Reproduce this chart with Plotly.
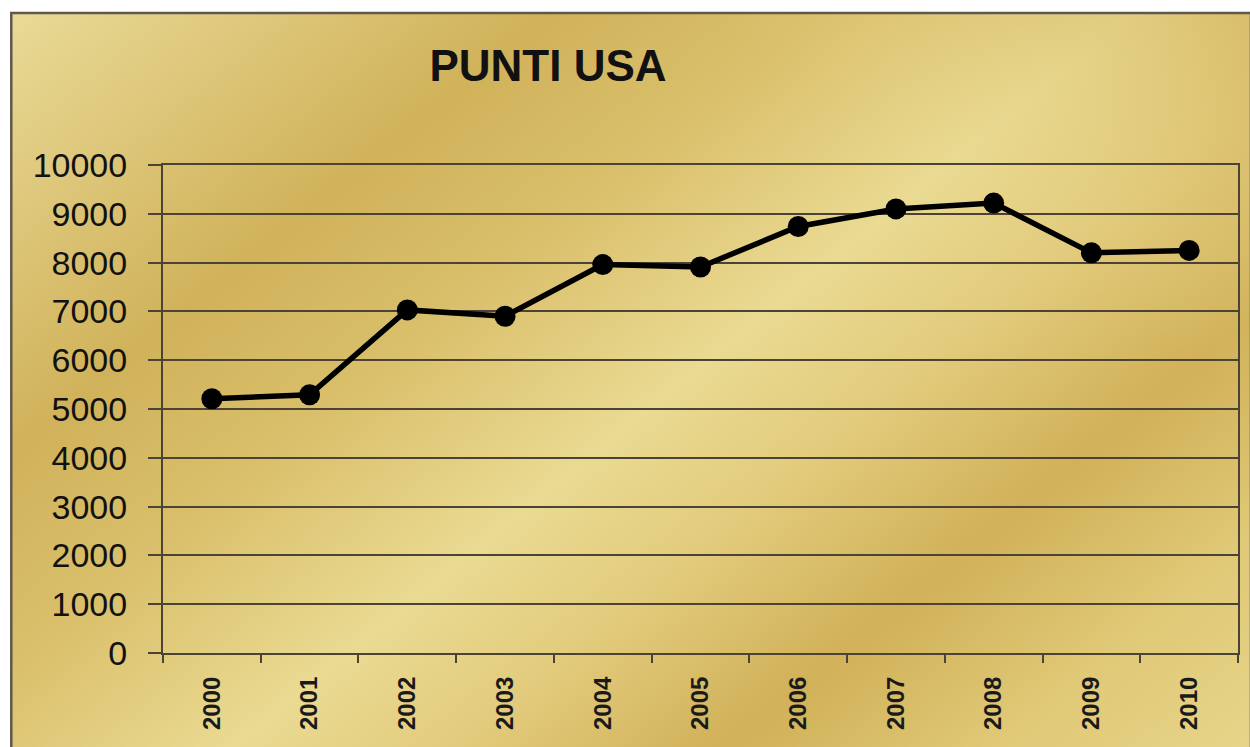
import base64
import plotly.graph_objects as go

# ---- data ----
years = ["2000", "2001", "2002", "2003", "2004", "2005",
         "2006", "2007", "2008", "2009", "2010"]
punti = [5210, 5290, 7030, 6900, 7960, 7910, 8740, 9100, 9220, 8200, 8250]
y_ticks = [0, 1000, 2000, 3000, 4000, 5000, 6000, 7000, 8000, 9000, 10000]
y_labels = ["0", "1000", "2000", "3000", "4000", "5000",
            "6000", "7000", "8000", "9000", "10000"]
title_text = "PUNTI USA"

# ---- geometry (pixels) ----
W, H = 1250, 747
L, R, T, B = 163, 1240, 165, 653
pw, ph = R - L, B - T


def px(x):
    return (x - L) / pw


def py(y):
    return (B - y) / ph


# gold gradient background as an inline SVG image
svg = (
    '<svg xmlns="http://www.w3.org/2000/svg" width="1240" height="740" '
    'viewBox="0 0 1240 740" preserveAspectRatio="none">'
    '<defs><linearGradient id="g" gradientUnits="userSpaceOnUse" '
    'x1="0" y1="0" x2="900" y2="1100">'
    '<stop offset="0" stop-color="#E9DA96"/>'
    '<stop offset="0.12" stop-color="#DDC679"/>'
    '<stop offset="0.24" stop-color="#D0B25A"/>'
    '<stop offset="0.36" stop-color="#DAC06C"/>'
    '<stop offset="0.50" stop-color="#EADA92"/>'
    '<stop offset="0.60" stop-color="#E2CB7C"/>'
    '<stop offset="0.72" stop-color="#D1B159"/>'
    '<stop offset="0.84" stop-color="#E0C977"/>'
    '<stop offset="1" stop-color="#EAD990"/>'
    '</linearGradient>'
    '<linearGradient id="h" gradientUnits="userSpaceOnUse" '
    'x1="1240" y1="0" x2="700" y2="740">'
    '<stop offset="0" stop-color="#C9A64A" stop-opacity="0.45"/>'
    '<stop offset="0.35" stop-color="#E6D48A" stop-opacity="0"/>'
    '<stop offset="1" stop-color="#E6D48A" stop-opacity="0"/>'
    '</linearGradient></defs>'
    '<rect width="1240" height="740" fill="url(#g)"/>'
    '<rect width="1240" height="740" fill="url(#h)"/>'
    '</svg>'
)
src = "data:image/svg+xml;base64," + base64.b64encode(svg.encode()).decode()

fx0, fx1 = px(11), px(1253)
fy1, fy0 = py(13), py(750)

fig = go.Figure()
fig.add_trace(go.Scatter(
    x=years, y=punti, mode="lines+markers",
    line=dict(color="black", width=5.5),
    marker=dict(color="black", size=21, symbol="circle"),
    showlegend=False, hoverinfo="x+y",
))

fig.add_layout_image(dict(
    source=src, xref="paper", yref="paper",
    x=fx0, y=fy1, sizex=fx1 - fx0, sizey=fy1 - fy0,
    xanchor="left", yanchor="top", sizing="stretch", layer="below",
))
fig.add_shape(type="rect", xref="paper", yref="paper",
              x0=fx0, x1=fx1, y0=fy0, y1=fy1,
              line=dict(color="#5E584E", width=2.5),
              fillcolor="rgba(0,0,0,0)", layer="above")

fig.update_layout(
    width=W, height=H,
    margin=dict(l=L, r=W - R, t=T, b=H - B, pad=0),
    paper_bgcolor="white",
    plot_bgcolor="rgba(0,0,0,0)",
    title=dict(text="<b>" + title_text + "</b>", x=548 / W, y=1 - 66 / H,
               xanchor="center", yanchor="middle", xref="container",
               yref="container",
               font=dict(family="Liberation Sans, Arial", size=44, color="#111")),
    xaxis=dict(
        type="category", range=[-0.5, 10.5],
        tickson="boundaries", ticks="outside", ticklen=8, tickwidth=2,
        tickcolor="#4A4336",
        showline=True, linecolor="#4A4336", linewidth=2, mirror=True,
        showgrid=False, tickangle=-90, ticklabelstandoff=12,
        tickfont=dict(family="Liberation Sans, Arial", size=24, color="#1A1A1A",
                      weight="bold"),
    ),
    yaxis=dict(
        range=[0, 10000], tickmode="array", tickvals=y_ticks, ticktext=y_labels,
        ticks="outside", ticklen=13, tickwidth=2, tickcolor="#4A4336",
        showline=True, linecolor="#4A4336", linewidth=2, mirror=True,
        showgrid=True, gridcolor="#4A4336", gridwidth=2,
        zeroline=False, ticklabelstandoff=14,
        tickfont=dict(family="Liberation Sans, Arial", size=34, color="#111"),
    ),
)

fig.write_html("out.html")
